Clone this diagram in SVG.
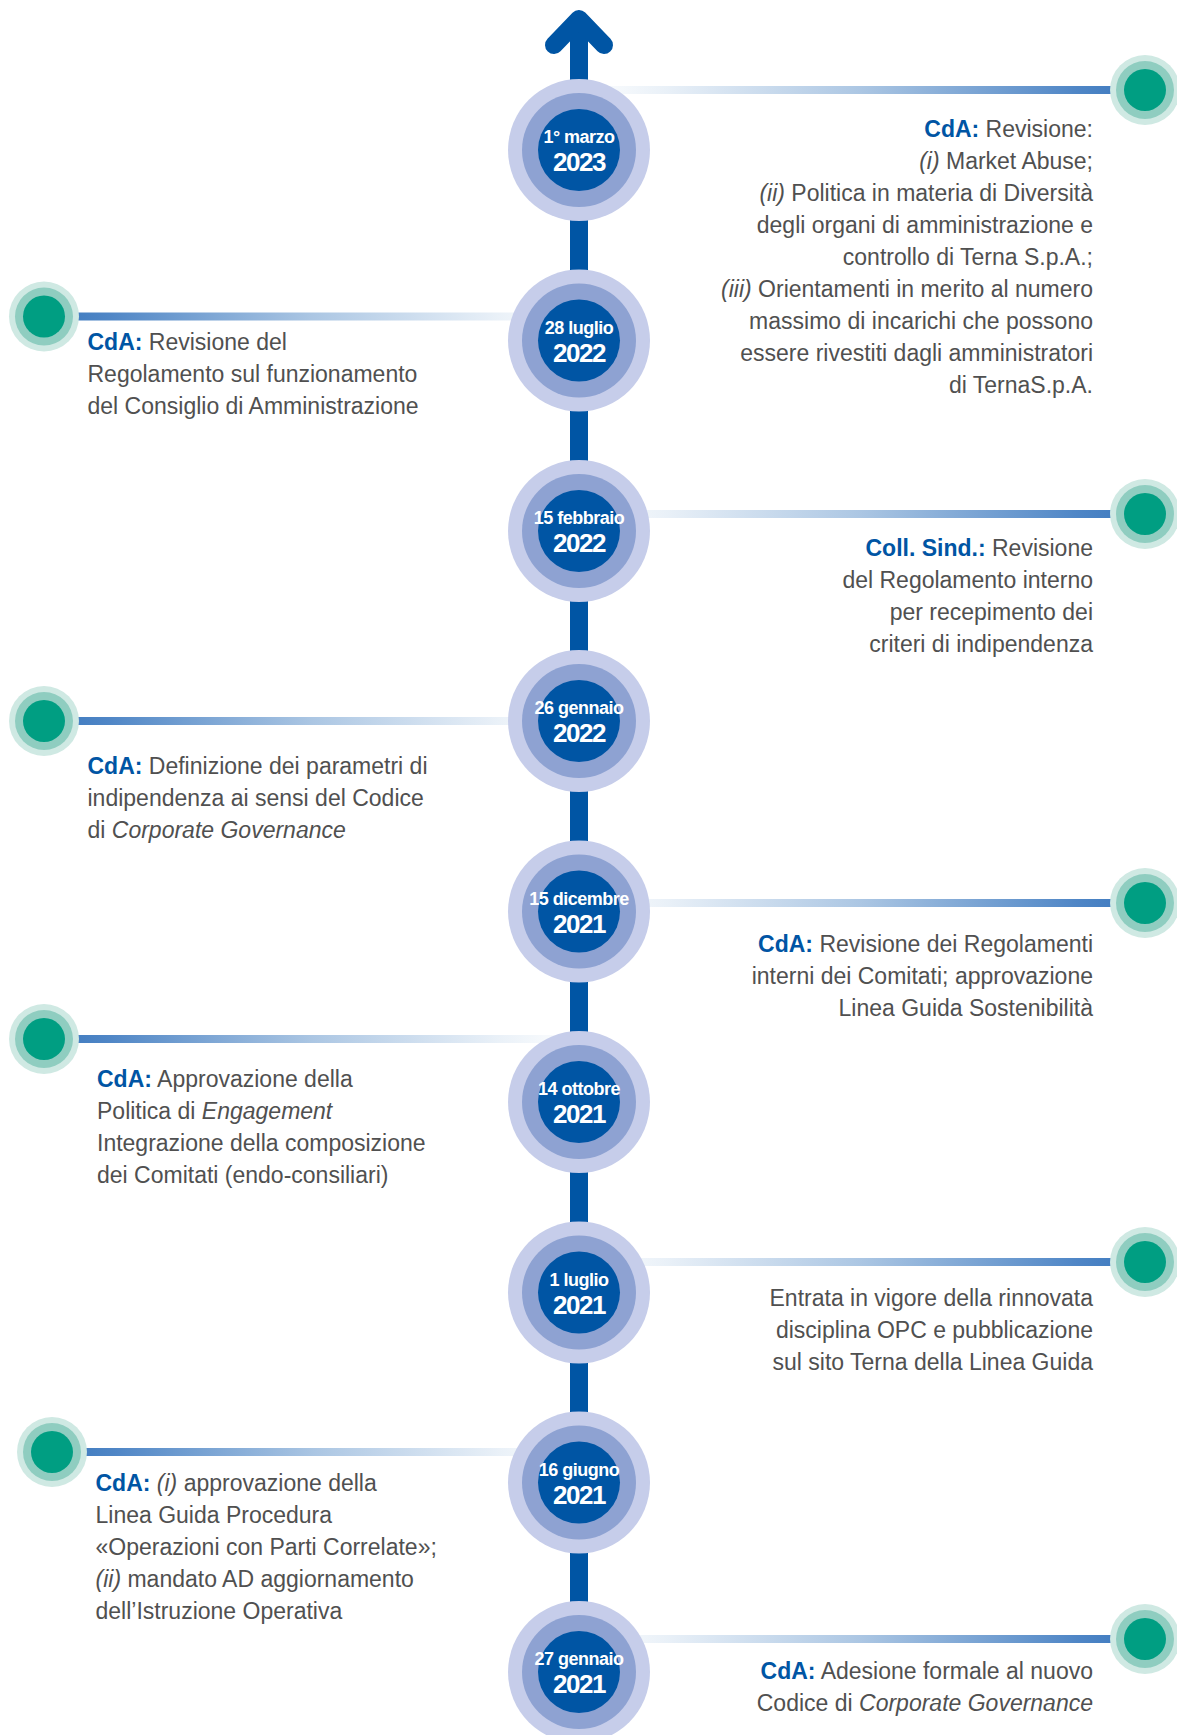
<svg xmlns="http://www.w3.org/2000/svg" width="1177" height="1735" viewBox="0 0 1177 1735">
<style>
.t{font-family:"Liberation Sans",Arial,sans-serif;font-size:23px;fill:#505050}
.r{text-anchor:end}
.b{font-weight:bold;fill:#0055a4}
.i{font-style:italic}
.d1{font-family:"Liberation Sans",Arial,sans-serif;font-size:18px;font-weight:bold;fill:#fff;text-anchor:middle;letter-spacing:-0.5px}
.d2{font-family:"Liberation Sans",Arial,sans-serif;font-size:26px;font-weight:bold;fill:#fff;text-anchor:middle;letter-spacing:-1.5px}
.c1{fill:#c6cdea}.c2{fill:#8ea2d2}.c3{fill:#0055a4}
.g1{fill:#cfe9e3}.g2{fill:#8fcdc0}.g3{fill:#009e82}
</style>
<defs>
<linearGradient id="gL" x1="0" y1="0" x2="1" y2="0">
<stop offset="0" stop-color="#3a77bd"/>
<stop offset="0.12" stop-color="#4f86c6"/>
<stop offset="0.5" stop-color="#abc6e3"/>
<stop offset="0.85" stop-color="#eaf1f8"/>
<stop offset="1" stop-color="#ffffff"/>
</linearGradient>
<linearGradient id="gR" x1="0" y1="0" x2="1" y2="0">
<stop offset="0" stop-color="#ffffff"/>
<stop offset="0.15" stop-color="#eaf1f8"/>
<stop offset="0.5" stop-color="#abc6e3"/>
<stop offset="0.88" stop-color="#4f86c6"/>
<stop offset="1" stop-color="#3a77bd"/>
</linearGradient>
</defs>
<rect width="1177" height="1735" fill="#fff"/>

<g id="connectors">
<rect x="579" y="86" width="566" height="8" fill="url(#gR)"/>
<rect x="44" y="312.5" width="535" height="8" fill="url(#gL)"/>
<rect x="579" y="510" width="566" height="8" fill="url(#gR)"/>
<rect x="44" y="717" width="535" height="8" fill="url(#gL)"/>
<rect x="579" y="899" width="566" height="8" fill="url(#gR)"/>
<rect x="44" y="1035" width="535" height="8" fill="url(#gL)"/>
<rect x="579" y="1258" width="566" height="8" fill="url(#gR)"/>
<rect x="52" y="1448" width="527" height="8" fill="url(#gL)"/>
<rect x="579" y="1635" width="566" height="8" fill="url(#gR)"/>
</g>

<g id="timeline-axis">
<line x1="579" y1="20" x2="579" y2="1735" stroke="#0055a4" stroke-width="18"/>
<polyline points="554,45 579,19 604,45" fill="none" stroke="#0055a4" stroke-width="18" stroke-linecap="round" stroke-linejoin="round"/>
</g>

<g id="date-2023-03-01">
<circle cx="579" cy="150" r="71" class="c1"/><circle cx="579" cy="150" r="57" class="c2"/><circle cx="579" cy="150" r="41" class="c3"/>
<text x="579" y="143" class="d1">1° marzo</text><text x="579" y="171" class="d2">2023</text>
</g>
<g id="date-2022-07-28">
<circle cx="579" cy="340.5" r="71" class="c1"/><circle cx="579" cy="340.5" r="57" class="c2"/><circle cx="579" cy="340.5" r="41" class="c3"/>
<text x="579" y="333.5" class="d1">28 luglio</text><text x="579" y="361.5" class="d2">2022</text>
</g>
<g id="date-2022-02-15">
<circle cx="579" cy="531" r="71" class="c1"/><circle cx="579" cy="531" r="57" class="c2"/><circle cx="579" cy="531" r="41" class="c3"/>
<text x="579" y="524" class="d1">15 febbraio</text><text x="579" y="552" class="d2">2022</text>
</g>
<g id="date-2022-01-26">
<circle cx="579" cy="721" r="71" class="c1"/><circle cx="579" cy="721" r="57" class="c2"/><circle cx="579" cy="721" r="41" class="c3"/>
<text x="579" y="714" class="d1">26 gennaio</text><text x="579" y="742" class="d2">2022</text>
</g>
<g id="date-2021-12-15">
<circle cx="579" cy="911.5" r="71" class="c1"/><circle cx="579" cy="911.5" r="57" class="c2"/><circle cx="579" cy="911.5" r="41" class="c3"/>
<text x="579" y="904.5" class="d1">15 dicembre</text><text x="579" y="932.5" class="d2">2021</text>
</g>
<g id="date-2021-10-14">
<circle cx="579" cy="1102" r="71" class="c1"/><circle cx="579" cy="1102" r="57" class="c2"/><circle cx="579" cy="1102" r="41" class="c3"/>
<text x="579" y="1095" class="d1">14 ottobre</text><text x="579" y="1123" class="d2">2021</text>
</g>
<g id="date-2021-07-01">
<circle cx="579" cy="1292.5" r="71" class="c1"/><circle cx="579" cy="1292.5" r="57" class="c2"/><circle cx="579" cy="1292.5" r="41" class="c3"/>
<text x="579" y="1285.5" class="d1">1 luglio</text><text x="579" y="1313.5" class="d2">2021</text>
</g>
<g id="date-2021-06-16">
<circle cx="579" cy="1482.5" r="71" class="c1"/><circle cx="579" cy="1482.5" r="57" class="c2"/><circle cx="579" cy="1482.5" r="41" class="c3"/>
<text x="579" y="1475.5" class="d1">16 giugno</text><text x="579" y="1503.5" class="d2">2021</text>
</g>
<g id="date-2021-01-27">
<circle cx="579" cy="1672" r="71" class="c1"/><circle cx="579" cy="1672" r="57" class="c2"/><circle cx="579" cy="1672" r="41" class="c3"/>
<text x="579" y="1665" class="d1">27 gennaio</text><text x="579" y="1693" class="d2">2021</text>
</g>

<g id="event-r1">
<circle cx="1145" cy="90" r="35" class="g1"/><circle cx="1145" cy="90" r="29" class="g2"/><circle cx="1145" cy="90" r="21" class="g3"/>
<text x="1093" y="137" class="t r"><tspan class="b">CdA:</tspan> Revisione:</text>
<text x="1093" y="169" class="t r"><tspan class="i">(i)</tspan> Market Abuse;</text>
<text x="1093" y="201" class="t r"><tspan class="i">(ii)</tspan> Politica in materia di Diversità</text>
<text x="1093" y="233" class="t r">degli organi di amministrazione e</text>
<text x="1093" y="265" class="t r">controllo di Terna S.p.A.;</text>
<text x="1093" y="297" class="t r"><tspan class="i">(iii)</tspan> Orientamenti in merito al numero</text>
<text x="1093" y="329" class="t r">massimo di incarichi che possono</text>
<text x="1093" y="361" class="t r">essere rivestiti dagli amministratori</text>
<text x="1093" y="393" class="t r">di TernaS.p.A.</text>
</g>

<g id="event-l1">
<circle cx="44" cy="316.5" r="35" class="g1"/><circle cx="44" cy="316.5" r="29" class="g2"/><circle cx="44" cy="316.5" r="21" class="g3"/>
<text x="87.5" y="350" class="t"><tspan class="b">CdA:</tspan> Revisione del</text>
<text x="87.5" y="382" class="t">Regolamento sul funzionamento</text>
<text x="87.5" y="414" class="t">del Consiglio di Amministrazione</text>
</g>

<g id="event-r2">
<circle cx="1145" cy="514" r="35" class="g1"/><circle cx="1145" cy="514" r="29" class="g2"/><circle cx="1145" cy="514" r="21" class="g3"/>
<text x="1093" y="556" class="t r"><tspan class="b">Coll. Sind.:</tspan> Revisione</text>
<text x="1093" y="588" class="t r">del Regolamento interno</text>
<text x="1093" y="620" class="t r">per recepimento dei</text>
<text x="1093" y="652" class="t r">criteri di indipendenza</text>
</g>

<g id="event-l2">
<circle cx="44" cy="721" r="35" class="g1"/><circle cx="44" cy="721" r="29" class="g2"/><circle cx="44" cy="721" r="21" class="g3"/>
<text x="87.5" y="773.5" class="t"><tspan class="b">CdA:</tspan> Definizione dei parametri di</text>
<text x="87.5" y="805.5" class="t">indipendenza ai sensi del Codice</text>
<text x="87.5" y="837.5" class="t">di <tspan class="i">Corporate Governance</tspan></text>
</g>

<g id="event-r3">
<circle cx="1145" cy="903" r="35" class="g1"/><circle cx="1145" cy="903" r="29" class="g2"/><circle cx="1145" cy="903" r="21" class="g3"/>
<text x="1093" y="951.5" class="t r"><tspan class="b">CdA:</tspan> Revisione dei Regolamenti</text>
<text x="1093" y="983.5" class="t r">interni dei Comitati; approvazione</text>
<text x="1093" y="1015.5" class="t r">Linea Guida Sostenibilità</text>
</g>

<g id="event-l3">
<circle cx="44" cy="1039" r="35" class="g1"/><circle cx="44" cy="1039" r="29" class="g2"/><circle cx="44" cy="1039" r="21" class="g3"/>
<text x="97" y="1086.5" class="t"><tspan class="b">CdA:</tspan> Approvazione della</text>
<text x="97" y="1118.5" class="t">Politica di <tspan class="i">Engagement</tspan></text>
<text x="97" y="1150.5" class="t">Integrazione della composizione</text>
<text x="97" y="1182.5" class="t">dei Comitati (endo-consiliari)</text>
</g>

<g id="event-r4">
<circle cx="1145" cy="1262" r="35" class="g1"/><circle cx="1145" cy="1262" r="29" class="g2"/><circle cx="1145" cy="1262" r="21" class="g3"/>
<text x="1093" y="1305.5" class="t r">Entrata in vigore della rinnovata</text>
<text x="1093" y="1337.5" class="t r">disciplina OPC e pubblicazione</text>
<text x="1093" y="1369.5" class="t r">sul sito Terna della Linea Guida</text>
</g>

<g id="event-l4">
<circle cx="52" cy="1452" r="35" class="g1"/><circle cx="52" cy="1452" r="29" class="g2"/><circle cx="52" cy="1452" r="21" class="g3"/>
<text x="95.5" y="1491" class="t"><tspan class="b">CdA:</tspan> <tspan class="i">(i)</tspan> approvazione della</text>
<text x="95.5" y="1523" class="t">Linea Guida Procedura</text>
<text x="95.5" y="1555" class="t">«Operazioni con Parti Correlate»;</text>
<text x="95.5" y="1587" class="t"><tspan class="i">(ii)</tspan> mandato AD aggiornamento</text>
<text x="95.5" y="1619" class="t">dell’Istruzione Operativa</text>
</g>

<g id="event-r5">
<circle cx="1145" cy="1639" r="35" class="g1"/><circle cx="1145" cy="1639" r="29" class="g2"/><circle cx="1145" cy="1639" r="21" class="g3"/>
<text x="1093" y="1678.5" class="t r"><tspan class="b">CdA:</tspan> Adesione formale al nuovo</text>
<text x="1093" y="1710.5" class="t r">Codice di <tspan class="i">Corporate Governance</tspan></text>
</g>
</svg>
